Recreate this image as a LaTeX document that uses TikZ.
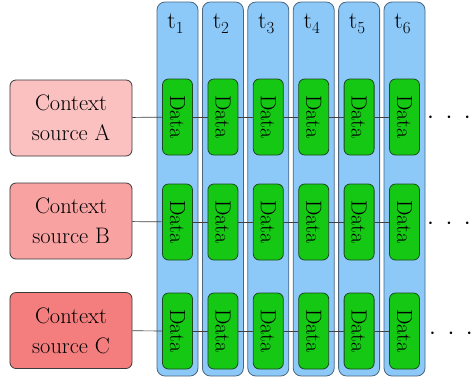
\documentclass[tikz,border=0pt]{standalone}
\usepackage{fontspec}
\definecolor{colblue}{HTML}{8CC8F8}
\definecolor{colborder}{HTML}{4A6680}
\definecolor{datgreen}{HTML}{14C814}
\definecolor{datborder}{HTML}{1E4A1E}
\definecolor{ctxA}{HTML}{FBC0C0}
\definecolor{ctxB}{HTML}{F8A2A2}
\definecolor{ctxC}{HTML}{F47E7E}
\definecolor{ctxborder}{HTML}{3A3A3A}
\begin{document}
\begin{tikzpicture}[x=1bp,y=-1bp,
  colbox/.style={draw=colborder, fill=colblue, rounded corners=8bp, line width=0.8bp,
    minimum width=41bp, minimum height=374bp, inner sep=0pt},
  databox/.style={draw=datborder, fill=datgreen, rounded corners=6bp, line width=0.8bp,
    minimum width=30bp, minimum height=76bp, inner sep=0pt,
    font=\fontsize{22}{22}\selectfont},
  ctxbox/.style={draw=ctxborder, rounded corners=6bp, line width=0.8bp,
    minimum width=122bp, minimum height=76bp, inner sep=0pt, align=center,
    font=\fontsize{22.5}{30}\selectfont},
  tlabel/.style={font=\fontsize{24}{24}\selectfont, anchor=base},
  conn/.style={draw=black!75, line width=0.7bp},
  dotsnode/.style={font=\fontsize{28}{28}\selectfont, anchor=base, inner sep=0pt}
]
\useasboundingbox (0,0) rectangle (474,381);
% columns
\foreach \i in {1,...,6} {
  \node[colbox] (c\i) at ({177.5+45.4*(\i-1)},189) {};
  \node[tlabel] (t\i) at ({175.5+45.4*(\i-1)},28) {t\raisebox{-0.55ex}{\fontsize{17}{17}\selectfont \i}};
}
% context sources
\node[ctxbox, fill=ctxA] (sA) at (71,118) {Context\\source A};
\node[ctxbox, fill=ctxB] (sB) at (71,221) {Context\\source B};
\node[ctxbox, fill=ctxC] (sC) at (71,330.5) {Context\\source C};
% data boxes
\foreach \r/\y in {A/117, B/222, C/331} {
  \foreach \i in {1,...,6} {
    \node[databox] (d\r\i) at ({177.5+45.4*(\i-1)},\y) {\rotatebox{-90}{Data}};
  }
}
% connectors
\foreach \r in {A,B,C} {
  \draw[conn] (s\r) -- (d\r1);
  \foreach \i/\j in {1/2,2/3,3/4,4/5,5/6} {
    \draw[conn] (d\r\i) -- (d\r\j);
  }
}
% continuation dots
\node[dotsnode] (eA) at (449,123) {$\cdot$\hspace{11.5bp}$\cdot$\hspace{11.5bp}$\cdot$};
\node[dotsnode] (eB) at (449,229) {$\cdot$\hspace{11.5bp}$\cdot$\hspace{11.5bp}$\cdot$};
\node[dotsnode] (eC) at (451,339) {$\cdot$\hspace{11.5bp}$\cdot$\hspace{11.5bp}$\cdot$};
\end{tikzpicture}
\end{document}
